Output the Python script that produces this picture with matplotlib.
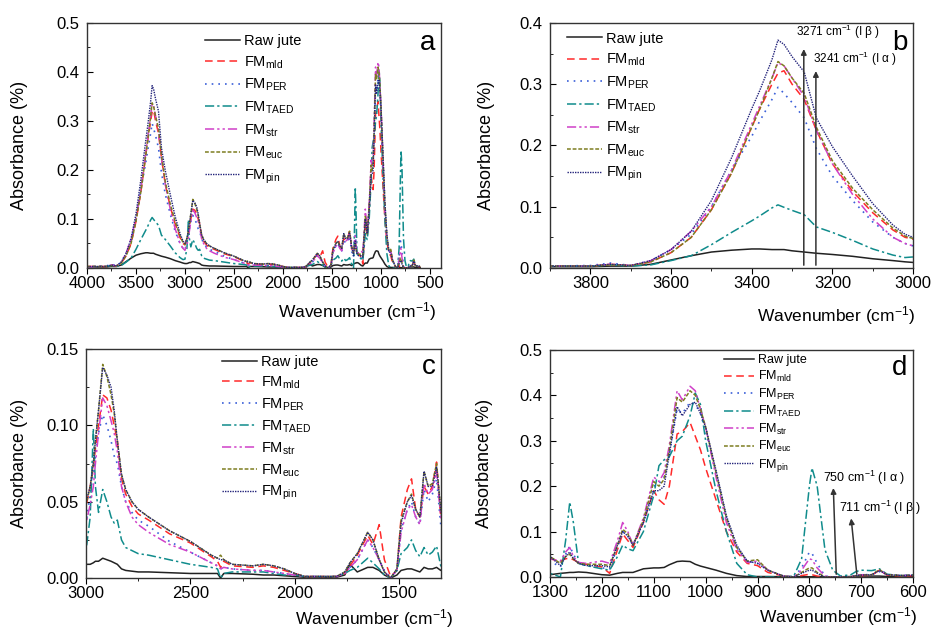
from matplotlib import pyplot as plt
from matplotlib.ticker import MultipleLocator, FormatStrFormatter
import numpy as np

plt.rcParams['font.family'] = ['Liberation Sans', 'DejaVu Sans']
plt.rcParams['mathtext.fontset'] = 'custom'
plt.rcParams['mathtext.rm'] = 'Liberation Sans'
plt.rcParams['mathtext.it'] = 'Liberation Sans'
plt.rcParams['mathtext.default'] = 'regular'

# wavenumber grid (cm-1), shared by every spectrum
wavenumber = [
    4000, 3900, 3800, 3750, 3700, 3650, 3600, 3550, 3500, 3450, 3400, 3380,
    3350, 3335, 3320, 3300, 3270, 3240, 3200, 3150, 3100, 3050, 3020, 3000,
    2980, 2965, 2955, 2940, 2920, 2900, 2880, 2865, 2850, 2830, 2810, 2780,
    2750, 2700, 2600, 2500,
    2400, 2370, 2355, 2340, 2300, 2200, 2150, 2100, 2050, 2000, 1950, 1800,
    1760, 1735, 1700, 1650,
    1625, 1595, 1570, 1540, 1510, 1490, 1460, 1440, 1420, 1400, 1380, 1360,
    1340, 1320, 1300,
    1280, 1270, 1262, 1255, 1245, 1230, 1200, 1185, 1170, 1160, 1150, 1140,
    1120, 1100, 1090, 1080, 1070, 1055, 1045, 1030,
    1020, 1010, 1000, 980, 960, 940, 920, 900, 880, 850, 830, 815, 800, 795,
    785, 770, 755, 740,
    720, 710, 700, 680, 665, 650, 620, 600,
]

raw_jute = [
    0.002, 0.002, 0.002, 0.003, 0.003, 0.006, 0.013, 0.020, 0.026, 0.029, 0.031, 0.031,
    0.030, 0.030, 0.030, 0.028, 0.026, 0.024, 0.022, 0.019, 0.015, 0.012, 0.010, 0.009,
    0.009, 0.010, 0.011, 0.011, 0.013, 0.012, 0.011, 0.010, 0.009, 0.006, 0.005, 0.0045,
    0.004, 0.004, 0.0035, 0.003,
    0.003, 0.003, 0.0, 0.003, 0.003, 0.0025, 0.002, 0.002, 0.0015, 0.001, 0.0005, 0.0005,
    0.002, 0.009, 0.004, 0.007,
    0.007, 0.005, 0.002, 0.0, 0.002, 0.005, 0.006, 0.006, 0.005, 0.004, 0.007, 0.006,
    0.006, 0.007, 0.005,
    0.008, 0.009, 0.010, 0.010, 0.011, 0.010, 0.005, 0.004, 0.008, 0.010, 0.010, 0.010,
    0.018, 0.020, 0.020, 0.021, 0.027, 0.034, 0.035, 0.034,
    0.028, 0.024, 0.021, 0.015, 0.008, 0.003, 0.001, 0.001, 0.001, 0.0005, 0.0005, 0.0005,
    0.0005, 0.0005, 0.0005, 0.0005, 0.0005, 0.0005,
    0.001, 0.002, 0.002, 0.002, 0.002, 0.001, 0.001, 0.001,
]

fm_mld = [
    0.003, 0.003, 0.003, 0.006, 0.004, 0.010, 0.025, 0.050, 0.095, 0.155, 0.230, 0.260,
    0.300, 0.318, 0.322, 0.300, 0.275, 0.225, 0.170, 0.125, 0.090, 0.062, 0.050, 0.047,
    0.060, 0.072, 0.085, 0.100, 0.120, 0.118, 0.110, 0.100, 0.090, 0.065, 0.055, 0.047,
    0.042, 0.038, 0.029, 0.023,
    0.014, 0.011, 0.007, 0.011, 0.008, 0.007, 0.008, 0.007, 0.005, 0.003, 0.001, 0.001,
    0.003, 0.008, 0.015, 0.028,
    0.022, 0.035, 0.012, 0.001, 0.005, 0.040, 0.058, 0.065, 0.045, 0.040, 0.060, 0.055,
    0.060, 0.076, 0.040,
    0.035, 0.040, 0.042, 0.038, 0.032, 0.028, 0.022, 0.008, 0.060, 0.095, 0.080, 0.065,
    0.120, 0.190, 0.170, 0.160, 0.200, 0.315, 0.320, 0.340,
    0.310, 0.280, 0.240, 0.170, 0.100, 0.055, 0.030, 0.025, 0.010, 0.002, 0.0, 0.003,
    0.006, 0.005, 0.002, 0.0, 0.0, 0.0,
    0.0, 0.003, 0.003, 0.004, 0.015, 0.004, 0.002, 0.003,
]

fm_per = [
    0.002, 0.003, 0.004, 0.008, 0.004, 0.012, 0.030, 0.055, 0.100, 0.160, 0.215, 0.240,
    0.275, 0.295, 0.285, 0.270, 0.245, 0.195, 0.150, 0.110, 0.075, 0.050, 0.040, 0.036,
    0.055, 0.070, 0.080, 0.095, 0.107, 0.100, 0.090, 0.080, 0.075, 0.060, 0.050, 0.043,
    0.038, 0.034, 0.024, 0.017,
    0.010, 0.008, 0.006, 0.007, 0.006, 0.005, 0.005, 0.004, 0.003, 0.002, 0.001, 0.001,
    0.003, 0.007, 0.012, 0.025,
    0.020, 0.012, 0.005, 0.0, 0.005, 0.032, 0.045, 0.050, 0.040, 0.035, 0.058, 0.050,
    0.055, 0.065, 0.035,
    0.022, 0.050, 0.068, 0.050, 0.030, 0.025, 0.020, 0.018, 0.065, 0.100, 0.090, 0.070,
    0.120, 0.200, 0.205, 0.220, 0.270, 0.370, 0.360, 0.385,
    0.380, 0.360, 0.320, 0.230, 0.130, 0.065, 0.035, 0.030, 0.015, 0.002, 0.0, 0.020,
    0.055, 0.052, 0.030, 0.002, 0.0, 0.0,
    0.0, 0.004, 0.005, 0.005, 0.012, 0.005, 0.003, 0.004,
]

fm_taed = [
    0.002, 0.003, 0.003, 0.005, 0.003, 0.005, 0.012, 0.020, 0.038, 0.058, 0.077, 0.085,
    0.098, 0.103, 0.099, 0.094, 0.087, 0.067, 0.058, 0.045, 0.031, 0.021, 0.017, 0.018,
    0.040, 0.098, 0.060, 0.043, 0.058, 0.050, 0.040, 0.036, 0.038, 0.025, 0.020, 0.018,
    0.016, 0.015, 0.012, 0.009,
    0.007, 0.006, 0.0, 0.003, 0.004, 0.004, 0.004, 0.003, 0.002, 0.002, 0.001, 0.001,
    0.003, 0.005, 0.007, 0.013,
    0.010, 0.006, 0.002, 0.0, 0.005, 0.016, 0.020, 0.025, 0.018, 0.014, 0.020, 0.015,
    0.017, 0.021, 0.008,
    0.0, 0.080, 0.165, 0.120, 0.030, 0.025, 0.018, 0.015, 0.045, 0.070, 0.062, 0.058,
    0.100, 0.180, 0.245, 0.258, 0.265, 0.300, 0.310, 0.355,
    0.405, 0.380, 0.300, 0.190, 0.100, 0.030, 0.005, 0.0, 0.0, 0.0, 0.002, 0.040,
    0.200, 0.240, 0.200, 0.060, 0.015, 0.002,
    0.005, 0.012, 0.015, 0.014, 0.018, 0.006, 0.003, 0.005,
]

fm_str = [
    0.002, 0.003, 0.003, 0.006, 0.004, 0.012, 0.030, 0.060, 0.100, 0.160, 0.235, 0.265,
    0.310, 0.335, 0.330, 0.310, 0.280, 0.225, 0.170, 0.120, 0.080, 0.050, 0.040, 0.036,
    0.048, 0.060, 0.075, 0.095, 0.118, 0.113, 0.103, 0.095, 0.083, 0.060, 0.050, 0.040,
    0.035, 0.030, 0.022, 0.017,
    0.010, 0.008, 0.006, 0.007, 0.006, 0.005, 0.005, 0.004, 0.003, 0.002, 0.001, 0.001,
    0.003, 0.007, 0.012, 0.025,
    0.020, 0.012, 0.004, 0.0, 0.005, 0.030, 0.045, 0.048, 0.040, 0.035, 0.062, 0.055,
    0.058, 0.070, 0.040,
    0.035, 0.055, 0.065, 0.045, 0.032, 0.030, 0.035, 0.030, 0.080, 0.120, 0.100, 0.070,
    0.130, 0.220, 0.210, 0.230, 0.290, 0.410, 0.390, 0.420,
    0.410, 0.370, 0.330, 0.220, 0.120, 0.060, 0.032, 0.035, 0.015, 0.002, 0.0, 0.015,
    0.040, 0.038, 0.020, 0.002, 0.0, 0.0,
    0.0, 0.004, 0.005, 0.005, 0.015, 0.005, 0.003, 0.004,
]

fm_euc = [
    0.003, 0.003, 0.003, 0.005, 0.004, 0.010, 0.025, 0.050, 0.095, 0.155, 0.230, 0.260,
    0.310, 0.337, 0.330, 0.310, 0.285, 0.230, 0.175, 0.130, 0.095, 0.065, 0.052, 0.048,
    0.060, 0.075, 0.090, 0.110, 0.140, 0.132, 0.120, 0.108, 0.090, 0.068, 0.058, 0.050,
    0.045, 0.040, 0.031, 0.024,
    0.015, 0.013, 0.015, 0.012, 0.009, 0.008, 0.009, 0.008, 0.006, 0.003, 0.001, 0.001,
    0.004, 0.010, 0.016, 0.030,
    0.025, 0.012, 0.004, 0.0, 0.006, 0.038, 0.050, 0.055, 0.045, 0.040, 0.070, 0.060,
    0.062, 0.075, 0.045,
    0.030, 0.045, 0.050, 0.040, 0.030, 0.028, 0.028, 0.025, 0.070, 0.105, 0.095, 0.070,
    0.125, 0.210, 0.200, 0.215, 0.280, 0.395, 0.385, 0.410,
    0.400, 0.370, 0.330, 0.230, 0.130, 0.065, 0.035, 0.038, 0.015, 0.002, 0.0, 0.010,
    0.020, 0.020, 0.010, 0.0, 0.0, 0.0,
    0.0, 0.003, 0.004, 0.005, 0.016, 0.005, 0.003, 0.004,
]

fm_pin = [
    0.003, 0.003, 0.003, 0.006, 0.004, 0.012, 0.030, 0.060, 0.110, 0.180, 0.260, 0.290,
    0.340, 0.372, 0.365, 0.345, 0.320, 0.245, 0.198, 0.150, 0.105, 0.070, 0.055, 0.050,
    0.060, 0.075, 0.090, 0.110, 0.138, 0.133, 0.125, 0.110, 0.090, 0.068, 0.058, 0.050,
    0.045, 0.040, 0.031, 0.024,
    0.015, 0.013, 0.012, 0.012, 0.009, 0.008, 0.009, 0.008, 0.006, 0.003, 0.001, 0.001,
    0.004, 0.010, 0.016, 0.030,
    0.025, 0.012, 0.004, 0.0, 0.006, 0.036, 0.050, 0.054, 0.045, 0.040, 0.070, 0.060,
    0.060, 0.073, 0.045,
    0.025, 0.045, 0.055, 0.040, 0.030, 0.025, 0.025, 0.022, 0.070, 0.100, 0.090, 0.070,
    0.120, 0.190, 0.190, 0.200, 0.270, 0.375, 0.355, 0.380,
    0.385, 0.360, 0.330, 0.235, 0.135, 0.070, 0.035, 0.030, 0.015, 0.002, 0.0, 0.008,
    0.015, 0.015, 0.008, 0.0, 0.0, 0.0,
    0.0, 0.003, 0.004, 0.005, 0.014, 0.005, 0.003, 0.004,
]

series_labels = ['Raw jute', r'FM$_{mld}$', r'FM$_{PER}$', r'FM$_{TAED}$',
                 r'FM$_{str}$', r'FM$_{euc}$', r'FM$_{pin}$']
series_values = [raw_jute, fm_mld, fm_per, fm_taed, fm_str, fm_euc, fm_pin]

colors = ['#222222', '#ff2a2a', '#3a5fd8', '#108c8c', '#d040c8', '#7d7d20', '#23237a']
styles = ['-', (0, (5, 3)), (0, (1, 3)), (0, (6, 2, 1.5, 2)),
          (0, (6, 2, 1.5, 2, 1.5, 2)), (0, (2.5, 1.2)), (0, (1, 0.8))]
widths = [1.1, 1.1, 1.2, 1.1, 1.1, 1.1, 1.0]


def draw_panel(ax, xlim, ylim, xmajor, ymajor, yfmt, letter, ylab_x,
               legend_pos, legend_size, legend_gap):
    """
    Draw all spectra on one axis with the given limits.
    """
    for vals, lab, c, ls, lw in zip(series_values, series_labels, colors, styles, widths):
        ax.plot(wavenumber, vals, color=c, ls=ls, lw=lw, label=lab)
    ax.set_xlim(*xlim)
    ax.set_ylim(*ylim)
    ax.xaxis.set_major_locator(MultipleLocator(xmajor))
    ax.xaxis.set_minor_locator(MultipleLocator(xmajor / 2))
    ax.yaxis.set_major_locator(MultipleLocator(ymajor))
    ax.yaxis.set_minor_locator(MultipleLocator(ymajor / 2))
    ax.yaxis.set_major_formatter(FormatStrFormatter(yfmt))
    ax.tick_params(axis='x', which='both', direction='out', labelsize=12, pad=2)
    ax.tick_params(axis='y', which='both', direction='in', labelsize=12, pad=5.5)
    ax.tick_params(which='major', length=4)
    ax.tick_params(which='minor', length=2.5)
    ax.set_ylabel('Absorbance (%)', fontsize=13)
    ax.yaxis.set_label_coords(ylab_x, 0.5)
    for s in ax.spines.values():
        s.set_linewidth(1.0)
        s.set_color('#333333')
    ax.text(0.985, 0.92, letter, transform=ax.transAxes, ha='right', va='center',
            fontsize=20)
    ax.legend(loc='upper left', bbox_to_anchor=legend_pos, frameon=False,
              fontsize=legend_size, handlelength=2.4, handletextpad=0.3,
              labelspacing=legend_gap, borderaxespad=0, borderpad=0)


fig = plt.figure(figsize=(9.31, 6.29), dpi=100)
ax_a = fig.add_axes([0.0934, 0.574, 0.380, 0.3895])
ax_b = fig.add_axes([0.5908, 0.574, 0.390, 0.3895])
ax_c = fig.add_axes([0.0924, 0.081, 0.381, 0.364])
ax_d = fig.add_axes([0.5908, 0.0827, 0.390, 0.361])

draw_panel(ax_a, (4000, 390), (0, 0.5), 500, 0.1, '%.1f', 'a', -0.167,
           (0.333, 0.955), 10.5, 0.43)
draw_panel(ax_b, (3900, 3000), (0, 0.4), 200, 0.1, '%.1f', 'b', -0.152,
           (0.047, 0.965), 10.5, 0.43)
draw_panel(ax_c, (3000, 1300), (0, 0.15), 500, 0.05, '%.2f', 'c', -0.163,
           (0.383, 0.975), 10.5, 0.38)
draw_panel(ax_d, (1300, 600), (0, 0.5), 100, 0.1, '%.1f', 'd', -0.157,
           (0.479, 0.98), 9, 0.2)

xlab = r'Wavenumber (cm$^{-1}$)'
fig.text(0.469, 0.504, xlab, ha='right', va='center', fontsize=12.5)
fig.text(0.983, 0.499, xlab, ha='right', va='center', fontsize=12.5)
fig.text(0.487, 0.016, xlab, ha='right', va='center', fontsize=12.5)
fig.text(0.985, 0.019, xlab, ha='right', va='center', fontsize=12.5)

# band assignments, panel b
arrow = dict(arrowstyle='-|>', color='#333333', lw=1.1, mutation_scale=8)
ax_b.annotate('', xy=(3271, 0.362), xytext=(3271, 0), arrowprops=arrow)
ax_b.annotate('', xy=(3241, 0.326), xytext=(3241, 0), arrowprops=arrow)
ax_b.text(3290, 0.385, r'3271 cm$^{-1}$ (I $\beta$ )', fontsize=8.5, va='center')
ax_b.text(3247, 0.341, r'3241 cm$^{-1}$ (I $\alpha$ )', fontsize=8.5, va='center')

# band assignments, panel d
ax_d.annotate('', xy=(754, 0.202), xytext=(748, 0), arrowprops=arrow)
ax_d.annotate('', xy=(720, 0.135), xytext=(708, 0), arrowprops=arrow)
ax_d.text(774, 0.218, r'750 cm$^{-1}$ (I $\alpha$ )', fontsize=9, va='center')
ax_d.text(742, 0.152, r'711 cm$^{-1}$ (I $\beta$ )', fontsize=9, va='center')

fig.savefig('out.png', dpi=100)
